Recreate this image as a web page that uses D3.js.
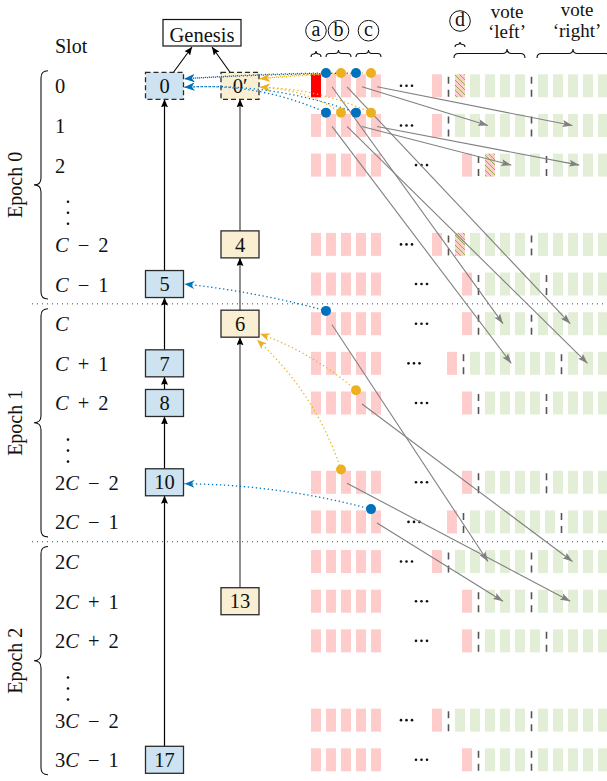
<!DOCTYPE html>
<html>
<head>
<meta charset="utf-8">
<script src="https://cdn.jsdelivr.net/npm/d3@7"></script>
<style>
body { margin: 0; background: #fff; }
svg { display: block; }
</style>
</head>
<body>
<div id="chart"></div>
<script>
// slots, top to bottom ("⋮" = skipped slots)
var slotLabels = ["0","1","2","⋮","C-2","C-1", "C","C+1","C+2","⋮","2C-2","2C-1", "2C","2C+1","2C+2","⋮","3C-2","3C-1"];
var epochLabels = ["Epoch 0","Epoch 1","Epoch 2"];
// per slot row: how many slots the vote window is pushed right, and slots in the 'left' window
var slotShift = [0,0,2,null,0,2, 2,1,2,null,2,1, 0,2,2,null,0,2];
var leftSlots = [5,5,4,null,5,4, 3,6,4,null,4,6, 5,3,4,null,5,3];
var hatchedRows = [0,2,4];

var blueBlocks = [
  {name:"0", row:0, dashed:true}, {name:"5", row:5}, {name:"7", row:7},
  {name:"8", row:8}, {name:"10", row:10}, {name:"17", row:17}
];
var yellowBlocks = [
  {name:"0′", row:0, dashed:true}, {name:"4", row:4}, {name:"6", row:6}, {name:"13", row:13}
];

// gray arrows: from (row, bar) to (row, window, slot offset inside window)
var forwardArrows = [
  {from:[0,3], to:[1,"left",2.2]},  {from:[0,4], to:[1,"right",2.3]},
  {from:[1,3], to:[2,"left",1.75]}, {from:[1,4], to:[2,"right",1.75]},
  {from:[0,1], to:[6,"left",1.2]},  {from:[0,2], to:[6,"right",2.15]},
  {from:[1,1], to:[7,"left",2.75]}, {from:[1,2], to:[7,"right",1.3]},
  {from:[6,1], to:[12,"left",2.2]}, {from:[8,3], to:[12,"right",2.3]},
  {from:[10,2], to:[13,"right",2.15]}, {from:[11,4], to:[13,"left",1.2]}
];

// coloured dots on bars, pointing (dotted) back to a block
var voteDots = [
  {row:0, bar:1, c:"blue",   block:"0",  endDy:-7,  bend:-2},
  {row:0, bar:2, c:"orange", block:"0′", endDy:-7,  bend:-2},
  {row:0, bar:3, c:"blue",   block:"0",  endDy:-7,  bend:-2},
  {row:0, bar:4, c:"orange", block:"0′", endDy:-7,  bend:-2},
  {row:1, bar:1, c:"blue",   block:"0",  endDy:1.5, bend:-18},
  {row:1, bar:2, c:"orange", block:"0′", endDy:1.5, bend:-12},
  {row:1, bar:3, c:"blue",   block:"0",  endDy:1.5, bend:-18},
  {row:1, bar:4, c:"orange", block:"0′", endDy:1.5, bend:-12},
  {row:6, bar:1, c:"blue",   block:"5",  endDy:0,   bend:-6},
  {row:8, bar:3, c:"orange", block:"6",  endDy:10,  bend:-10},
  {row:10, bar:2, c:"orange", block:"6", endDy:16,  endDx:-3, bend:-20},
  {row:11, bar:4, c:"blue",  block:"10", endDy:1.5, bend:-12}
];

var W = 607, H = 781;
var FONT = "'Liberation Serif', 'Times New Roman', Times, 'DejaVu Serif', serif";
var colors = {blue:"#0072bd", orange:"#edb120", blueFill:"#cde3f1", yellowFill:"#fbefd3",
  pink:"#ffcccc", red:"#ff0000", green:"#e3eed7", gray:"#808080"};
var BW = 38, BH = 27, barW = 10, barH = 23;

var y = d3.scaleLinear().domain([0, 17]).range([85.8, 759.8]);
var xs = d3.scaleLinear().domain([0, 1]).range([311, 326]);
var colX = {blue: 164.5, yellow: 240};

var svg = d3.select("#chart").append("svg").attr("width", W).attr("height", H)
  .attr("font-family", FONT);
var defs = svg.append("defs");

function txt(x, yy, s, size) {
  return svg.append("text").attr("x", x).attr("y", yy).attr("font-family", FONT)
    .attr("font-size", size || 20).attr("fill", "#111").text(s);
}

function marker(id, color, len, wid, notch) {
  defs.append("marker").attr("id", id)
    .attr("viewBox", "0 0 " + len + " " + wid)
    .attr("refX", len).attr("refY", wid/2)
    .attr("markerWidth", len).attr("markerHeight", wid)
    .attr("markerUnits", "userSpaceOnUse").attr("orient", "auto")
    .append("path")
    .attr("d", "M0,0 L" + len + "," + wid/2 + " L0," + wid + " L" + len*notch + "," + wid/2 + "Z")
    .attr("fill", color);
}
marker("ah-black", "#000", 8, 7, 0.15);
marker("ah-gray", colors.gray, 10, 7, 0.2);
marker("ah-blue", colors.blue, 10, 8, 0.3);
marker("ah-orange", colors.orange, 10, 8, 0.3);

var pat = defs.append("pattern").attr("id", "hatch").attr("patternUnits", "userSpaceOnUse")
  .attr("width", 5).attr("height", 5);
pat.append("rect").attr("width", 5).attr("height", 5).attr("fill", colors.pink);
pat.append("path").attr("d", "M-1,-1 L6,6 M-1,4 L1,6 M4,-1 L6,1")
  .attr("stroke", "#7fae3a").attr("stroke-width", 0.9);

function layout(r) {
  var a = slotShift[r], n = leftSlots[r];
  var pink = xs(8 + a) + 1;
  var left = pink + 23;
  return {pink: pink, sep1: pink + 16.5, left: left,
          sep2: left + 15*(n-1) + 16.5, right: left + 15*(n-1) + 23,
          dots: (xs(4) + barW + pink) / 2};
}

function vbrace(x, y1, y2, w) {
  var q = w/2, m = (y1+y2)/2, xm = x - q;
  return "M"+x+","+y1+" Q"+xm+","+y1+" "+xm+","+(y1+q)+
    " L"+xm+","+(m-q)+" Q"+xm+","+m+" "+(x-w)+","+m+
    " Q"+xm+","+m+" "+xm+","+(m+q)+" L"+xm+","+(y2-q)+" Q"+xm+","+y2+" "+x+","+y2;
}
function hbrace(x1, x2, tx, yb, h) {
  var q = Math.min(h/2, (x2-x1)/4), ym = yb - h/2;
  return "M"+x1+","+yb+" Q"+x1+","+ym+" "+(x1+q)+","+ym+" L"+(tx-q)+","+ym+
    " Q"+tx+","+ym+" "+tx+","+(yb-h)+" Q"+tx+","+ym+" "+(tx+q)+","+ym+
    " L"+(x2-q)+","+ym+" Q"+x2+","+ym+" "+x2+","+yb;
}

// epoch separators
[5.5, 11.5].forEach(function(r) {
  svg.append("line").attr("x1", 32).attr("x2", W).attr("y1", y(r)).attr("y2", y(r))
    .attr("stroke", "#444").attr("stroke-width", 1).attr("stroke-dasharray", "1 4");
});

// epoch braces and labels
epochLabels.forEach(function(lab, i) {
  var y1 = y(i*6) - 15, y2 = y(i*6 + 5) + 15;
  svg.append("path").attr("d", vbrace(48, y1, y2, 14))
    .attr("fill", "none").attr("stroke", "#111").attr("stroke-width", 1.1);
  txt(0, 0, lab).attr("transform", "translate(21.5," + ((y1+y2)/2) + ") rotate(-90)")
    .attr("text-anchor", "middle");
});

// slot labels
txt(55, 52.5, "Slot", 20);
slotLabels.forEach(function(s, r) {
  if (s == "⋮") {
    [-3, 8, 19].forEach(function(d) {
      svg.append("circle").attr("cx", 68).attr("cy", y(r) + d).attr("r", 1.3).attr("fill", "#111");
    });
    return;
  }
  var m = s.match(/^(\d*)(C?)([+-]?)(\d*)$/);
  var t = txt(55, y(r) + 7.5, null, 20.5);
  if (m[1]) t.append("tspan").text(m[1]);
  if (m[2]) t.append("tspan").attr("font-style", "italic").text("C");
  if (m[3]) t.append("tspan").attr("dx", 9).text(m[3] == "-" ? "−" : "+");
  if (m[4] && m[3]) t.append("tspan").attr("dx", 9).text(m[4]);
});

// slot bars of each row
slotLabels.forEach(function(s, r) {
  if (s == "⋮") return;
  var g = svg.append("g");
  var L = layout(r);
  var bars = [];
  for (var j = 0; j < 5; j++) bars.push({x: xs(j), fill: (r == 0 && j == 0) ? colors.red : colors.pink});
  bars.push({x: L.pink, fill: colors.pink});
  for (var k = 0; k < leftSlots[r]; k++)
    bars.push({x: L.left + 15*k, fill: (k == 0 && hatchedRows.indexOf(r) >= 0) ? "url(#hatch)" : colors.green});
  for (var k2 = 0; k2 < 6; k2++) bars.push({x: L.right + 15*k2, fill: colors.green});
  g.selectAll("rect").data(bars).enter().append("rect")
    .attr("x", function(d) { return d.x; }).attr("y", y(r) - barH/2)
    .attr("width", barW).attr("height", barH).attr("fill", function(d) { return d.fill; });
  [L.sep1, L.sep2].forEach(function(sx) {
    g.append("line").attr("x1", sx).attr("x2", sx).attr("y1", y(r) - 9).attr("y2", y(r) + 16)
      .attr("stroke", "#555").attr("stroke-width", 1.6).attr("stroke-dasharray", "7 6");
  });
  [-5.5, 0, 5.5].forEach(function(d) {
    g.append("circle").attr("cx", L.dots + d).attr("cy", y(r)).attr("r", 1.3).attr("fill", "#111");
  });
});

// annotations on top
var L0 = layout(0);
var marks = [
  {t:"a", x1:xs(0), x2:xs(0)+barW, cy:30.7, yb:57, h:6},
  {t:"b", x1:xs(1), x2:xs(2)+barW, cy:30.7, yb:57, h:7},
  {t:"c", x1:xs(3), x2:xs(4)+barW, cy:30.7, yb:57, h:7},
  {t:"d", x1:L0.left, x2:L0.left+barW, cy:21, yb:47, h:5}
];
marks.forEach(function(m) {
  var cx = (m.x1 + m.x2)/2;
  svg.append("circle").attr("cx", cx).attr("cy", m.cy).attr("r", 10.3)
    .attr("fill", "none").attr("stroke", "#111").attr("stroke-width", 1);
  txt(cx, m.cy + 5, m.t).attr("text-anchor", "middle");
  svg.append("path").attr("d", hbrace(m.x1, m.x2, cx, m.yb, m.h))
    .attr("fill", "none").attr("stroke", "#111").attr("stroke-width", 1.1);
});
var voteL = {x1: L0.left - 1, x2: L0.left + 15*4 + barW, tip: 507};
var voteR = {x1: L0.right - 1, x2: L0.right + 72, tip: L0.right + 35};
[voteL, voteR].forEach(function(v) {
  svg.append("path").attr("d", hbrace(v.x1, v.x2, v.tip, 58, 9))
    .attr("fill", "none").attr("stroke", "#111").attr("stroke-width", 1.1);
});
txt(507, 18, "vote", 19).attr("text-anchor", "middle");
txt(507, 38, "‘left’", 19).attr("text-anchor", "middle");
txt(577, 16, "vote", 19).attr("text-anchor", "middle");
txt(577, 37, "‘right’", 19).attr("text-anchor", "middle");

// genesis
svg.append("rect").attr("x", 163).attr("y", 19.5).attr("width", 78).attr("height", 26.5)
  .attr("fill", "#fff").attr("stroke", "#111").attr("stroke-width", 1.2);
txt(202, 41.5, "Genesis", 20.5).attr("text-anchor", "middle");
[[colX.blue + 9, 192], [colX.yellow - 10, 212]].forEach(function(p) {
  svg.append("line").attr("x1", p[0]).attr("y1", y(0) - BH/2).attr("x2", p[1]).attr("y2", 47)
    .attr("stroke", "#000").attr("stroke-width", 1.1).attr("marker-end", "url(#ah-black)");
});

// chains
[[blueBlocks, colX.blue, "#000"], [yellowBlocks, colX.yellow, "#444"]].forEach(function(c) {
  var bl = c[0];
  for (var i = bl.length - 1; i > 0; i--) {
    svg.append("line").attr("x1", c[1]).attr("x2", c[1])
      .attr("y1", y(bl[i].row) - BH/2).attr("y2", y(bl[i-1].row) + BH/2)
      .attr("stroke", c[2]).attr("stroke-width", 1.2).attr("marker-end", "url(#ah-black)");
  }
});

// blocks
var blockPos = {};
[[blueBlocks, colX.blue, colors.blueFill], [yellowBlocks, colX.yellow, colors.yellowFill]].forEach(function(c) {
  c[0].forEach(function(b) {
    blockPos[b.name] = {x: c[1], y: y(b.row)};
    svg.append("rect").attr("x", c[1] - BW/2).attr("y", y(b.row) - BH/2)
      .attr("width", BW).attr("height", BH).attr("fill", c[2])
      .attr("stroke", "#2a2a2a").attr("stroke-width", 1.3)
      .attr("stroke-dasharray", b.dashed ? "5 3" : null);
    txt(c[1], y(b.row) + 7.2, b.name, 20.5).attr("text-anchor", "middle");
  });
});

// forward gray arrows
forwardArrows.forEach(function(a) {
  var L = layout(a.to[0]);
  var tx = (a.to[1] == "left" ? L.left : L.right) + 15*a.to[2];
  svg.append("line")
    .attr("x1", xs(a.from[1]) + barW/2 + 1).attr("y1", y(a.from[0]) + 1)
    .attr("x2", tx).attr("y2", y(a.to[0]))
    .attr("stroke", colors.gray).attr("stroke-width", 1.1).attr("marker-end", "url(#ah-gray)");
});

// dotted links back to blocks, then the dots
voteDots.forEach(function(d) {
  var sx = xs(d.bar), sy = y(d.row) - 12.8;
  var b = blockPos[d.block];
  var tx = b.x + BW/2 + 1 + (d.endDx || 0), ty = b.y + d.endDy;
  var len = Math.hypot(tx - sx, ty - sy);
  var ux = (tx - sx)/len, uy = (ty - sy)/len;
  var cx = (sx + tx)/2 + uy*d.bend, cy = (sy + ty)/2 - ux*d.bend;
  var p = d3.path();
  p.moveTo(sx, sy);
  p.quadraticCurveTo(cx, cy, tx, ty);
  svg.append("path").attr("d", p.toString()).attr("fill", "none")
    .attr("stroke", colors[d.c]).attr("stroke-width", 1.3).attr("stroke-dasharray", "1.3 2.7")
    .attr("marker-end", "url(#ah-" + d.c + ")");
});
svg.selectAll("circle.vote").data(voteDots).enter().append("circle").attr("class", "vote")
  .attr("cx", function(d) { return xs(d.bar); })
  .attr("cy", function(d) { return y(d.row) - 12.8; })
  .attr("r", 5).attr("fill", function(d) { return colors[d.c]; });
</script>
</body>
</html>
